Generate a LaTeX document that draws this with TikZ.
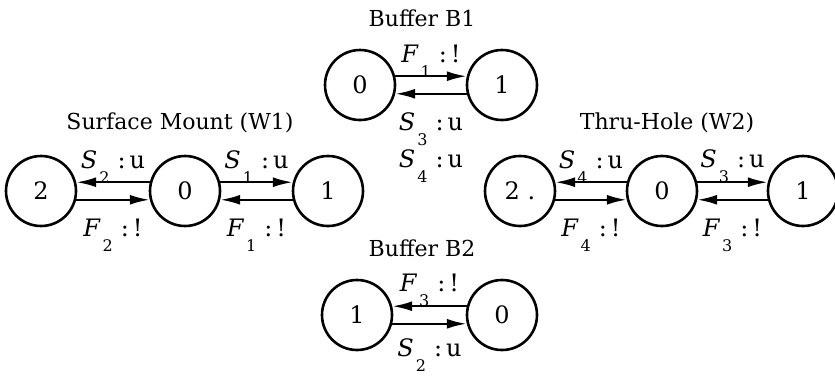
\documentclass[tikz,border=0pt]{standalone}
\usepackage{fontspec}
\setmainfont{DejaVu Serif}
\usepackage{tikz}
\usetikzlibrary{arrows.meta,positioning,calc}

% event label: letter, lowered index, response
\newcommand{\evlab}[3]{\textit{#1}\kern1pt\raisebox{-1.2ex}{\footnotesize #2}\kern4pt:\kern2pt#3}

\begin{document}
\begin{tikzpicture}[x=0.5pt,y=-0.5pt,
    state/.style={draw,circle,line width=1.3pt,minimum size=35pt,inner sep=0pt,font=\large},
    trans/.style={-{Latex[length=10pt,width=5pt]},line width=1.2pt},
    ttl/.style={font=\fontsize{11}{13}\selectfont},
    evt/.style={inner sep=0pt,font=\fontsize{12}{14}\selectfont}]
    \useasboundingbox (0,0) rectangle (835,376);

    % Buffer B1
    \node[ttl] (b1t) at (422,18) {Buffer B1};
    \node[state] (b1s0) at (360,85) {0};
    \node[state] (b1s1) at (502,85) {1};
    \draw[trans] (b1s0.14) -- (b1s1.166) node[evt,midway,above=-1pt] (b1e1) {\evlab{F}{1}{!}};
    \draw[trans] (b1s1.-166) -- (b1s0.-14) node[evt,midway,below=9pt] (b1e3) {\evlab{S}{3}{u}};
    \node[evt,below=1pt of b1e3] (b1e4) {\evlab{S}{4}{u}};

    % Surface Mount (W1)
    \node[ttl] (w1t) at (180,123) {Surface Mount (W1)};
    \node[state] (w1s2) at (41,191) {2};
    \node[state] (w1s0) at (185,191) {0};
    \node[state] (w1s1) at (328,191) {1};
    \draw[trans] (w1s0.166) -- (w1s2.14) node[evt,midway,above=-1pt] (w1e2) {\evlab{S}{2}{u}};
    \draw[trans] (w1s2.-14) -- (w1s0.-166) node[evt,midway,below=9pt] (w1f2) {\evlab{F}{2}{!}};
    \draw[trans] (w1s0.14) -- (w1s1.166) node[evt,midway,above=-1pt] (w1e1) {\evlab{S}{1}{u}};
    \draw[trans] (w1s1.-166) -- (w1s0.-14) node[evt,midway,below=9pt] (w1f1) {\evlab{F}{1}{!}};

    % Thru-Hole (W2)
    \node[ttl] (w2t) at (667,123) {Thru-Hole (W2)};
    \node[state] (w2s2) at (520,191) {2 .};
    \node[state] (w2s0) at (662,191) {0};
    \node[state] (w2s1) at (803,191) {1};
    \draw[trans] (w2s0.166) -- (w2s2.14) node[evt,midway,above=-1pt] (w2e4) {\evlab{S}{4}{u}};
    \draw[trans] (w2s2.-14) -- (w2s0.-166) node[evt,midway,below=9pt] (w2f4) {\evlab{F}{4}{!}};
    \draw[trans] (w2s0.14) -- (w2s1.166) node[evt,midway,above=-1pt] (w2e3) {\evlab{S}{3}{u}};
    \draw[trans] (w2s1.-166) -- (w2s0.-14) node[evt,midway,below=9pt] (w2f3) {\evlab{F}{3}{!}};

    % Buffer B2
    \node[ttl] (b2t) at (422,248) {Buffer B2};
    \node[state] (b2s1) at (357,315) {1};
    \node[state] (b2s0) at (502,315) {0};
    \draw[trans] (b2s0.166) -- (b2s1.14) node[evt,midway,above=-1pt] (b2f3) {\evlab{F}{3}{!}};
    \draw[trans] (b2s1.-14) -- (b2s0.-166) node[evt,midway,below=7pt] (b2e2) {\evlab{S}{2}{u}};
\end{tikzpicture}
\end{document}
